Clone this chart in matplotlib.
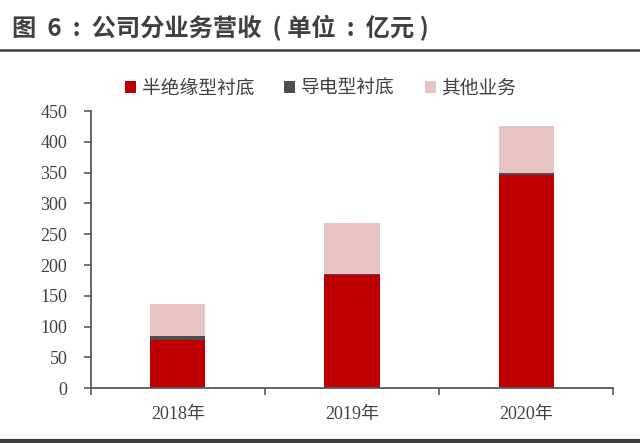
import numpy as np
import matplotlib.pyplot as plt
from matplotlib.lines import Line2D

plt.rcParams['font.family'] = ['Liberation Serif', 'Noto Sans CJK SC']

years = ['2018年', '2019年', '2020年']
semi_insulating = [78, 183, 346]
conductive = [6, 3, 3]
other = [52, 82, 77]

c_red = '#C00000'
c_dark = '#4D4D4D'
c_pink = '#E8C3C3'
c_axis = '#595959'

fig = plt.figure(figsize=(6.4, 4.43), dpi=100)
ax = fig.add_axes([0.142, 0.124, 0.816, 0.625])

x = np.arange(len(years))
w = 0.316
semi = np.array(semi_insulating)
cond = np.array(conductive)
ax.bar(x, semi, w, color=c_red, label='半绝缘型衬底')
ax.bar(x, cond, w, bottom=semi, color=c_dark, label='导电型衬底')
ax.bar(x, other, w, bottom=semi + cond, color=c_pink, label='其他业务')

ax.set_xlim(-0.5, 2.5)
ax.set_ylim(0, 450)
ax.set_yticks(np.arange(0, 451, 50))
ax.set_xticks(x)
ax.set_xticklabels(years)
ax.set_xticks([-0.5, 0.5, 1.5, 2.5], minor=True)
ax.tick_params(axis='x', which='major', length=0, pad=13, labelsize=13, colors='#404040')
ax.tick_params(axis='x', which='minor', length=5, width=1.2, color=c_axis, direction='out')
ax.tick_params(axis='y', length=5, width=1.2, color=c_axis, pad=12, labelsize=13, labelcolor='#404040')
for s in ['top', 'right']:
    ax.spines[s].set_visible(False)
for s in ['left', 'bottom']:
    ax.spines[s].set_color(c_axis)
    ax.spines[s].set_linewidth(1.3)

leg = ax.legend(loc='lower center', bbox_to_anchor=(0.44, 0.985), ncol=3, frameon=False,
                prop={'family': ['Noto Sans CJK SC'], 'size': 13.5, 'weight': 'light'},
                handlelength=0.6, handleheight=0.6, handletextpad=0.3, columnspacing=1.6)
for t in leg.get_texts():
    t.set_color('#404040')

fig.text(0.018, 0.937, '图  6  :  公司分业务营收  ( 单位  :  亿元 )', family=['Noto Sans CJK SC'],
         fontsize=17.5, fontweight='bold', color='#404040', va='center', ha='left')
fig.add_artist(Line2D([0, 1], [0.887, 0.887], transform=fig.transFigure, color='#404040', lw=1.8))
fig.add_artist(Line2D([0, 1], [0.004, 0.004], transform=fig.transFigure, color='#404040', lw=3))

fig.savefig('out.png', dpi=100)
